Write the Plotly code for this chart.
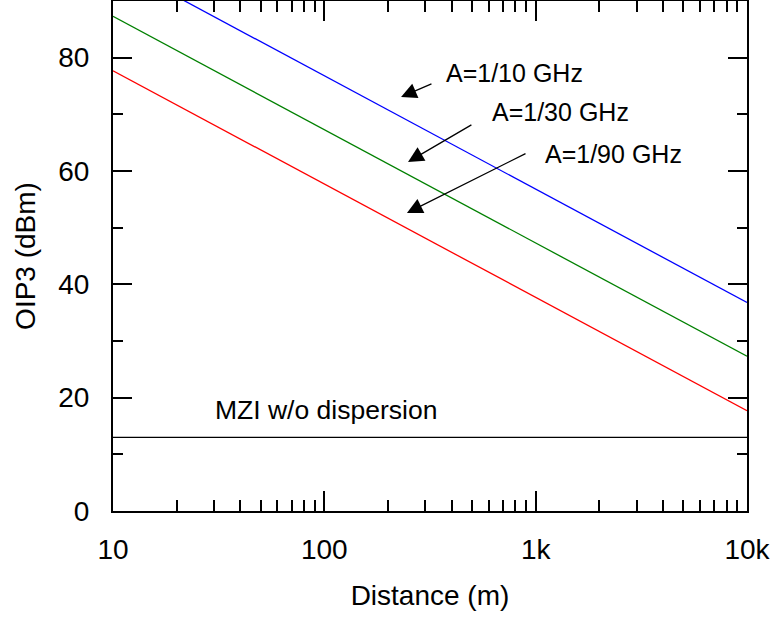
import plotly.graph_objects as go

distance = [10, 100, 1000, 10000]
oip3_a10 = [96.8, 76.8, 56.8, 36.8]
oip3_a30 = [87.3, 67.3, 47.3, 27.3]
oip3_a90 = [77.7, 57.7, 37.7, 17.7]
mzi = [13, 13, 13, 13]

x_tickvals = [10, 100, 1000, 10000]
x_ticktext = ["10", "100", "1k", "10k"]
y_tickvals = [0, 20, 40, 60, 80]

FONT = "Liberation Sans, Arial, sans-serif"

fig = go.Figure()
fig.add_trace(go.Scatter(x=distance, y=oip3_a10, mode="lines", line=dict(color="#0000ff", width=1.3)))
fig.add_trace(go.Scatter(x=distance, y=oip3_a30, mode="lines", line=dict(color="#008000", width=1.3)))
fig.add_trace(go.Scatter(x=distance, y=oip3_a90, mode="lines", line=dict(color="#ff0000", width=1.3)))
fig.add_trace(go.Scatter(x=distance, y=mzi, mode="lines", line=dict(color="#000000", width=1.3)))

axis_common = dict(
    showline=True, linecolor="black", linewidth=2, mirror="allticks",
    ticks="inside", tickcolor="black", tickwidth=2, showgrid=False, zeroline=False,
    tickfont=dict(family=FONT, size=28, color="black"),
    automargin=False,
)

fig.update_xaxes(
    type="log", range=[1, 4], tickvals=x_tickvals, ticktext=x_ticktext, ticklen=20,
    minor=dict(ticks="inside", ticklen=11, tickwidth=2, tickcolor="black", dtick="D1", showgrid=False),
    title=dict(text="Distance (m)", font=dict(family=FONT, size=28, color="black"), standoff=22),
    ticklabelstandoff=12,
    **axis_common,
)
fig.update_yaxes(
    range=[0, 90], tickvals=y_tickvals, ticklen=19,
    minor=dict(ticks="inside", ticklen=10, tickwidth=2, tickcolor="black", dtick=10, showgrid=False),
    title=dict(text="OIP3 (dBm)", font=dict(family=FONT, size=28, color="black"), standoff=14),
    ticklabelstandoff=16,
    **axis_common,
)

arrows = [
    (2.363, 73.05, 2.514, 75.5),
    (2.396, 61.6, 2.703, 68.3),
    (2.391, 52.6, 2.959, 63.2),
]
for hx, hy, tx, ty in arrows:
    fig.add_annotation(x=hx, y=hy, ax=tx, ay=ty, xref="x", yref="y", axref="x", ayref="y",
                       text="", showarrow=True, arrowhead=2, arrowsize=2.4, arrowwidth=1.3,
                       arrowcolor="black")

labels = [
    (2.566, 77.3, "A=1/10 GHz", 25),
    (2.784, 70.4, "A=1/30 GHz", 25),
    (3.035, 63.0, "A=1/90 GHz", 25),
    (1.473, 17.8, "MZI w/o dispersion", 26.5),
]
for lx, ly, t, fs in labels:
    fig.add_annotation(x=lx, y=ly, xref="x", yref="y", text=t, showarrow=False,
                       xanchor="left", yanchor="middle",
                       font=dict(family=FONT, size=fs, color="black"))

fig.update_layout(
    width=775, height=619, showlegend=False,
    plot_bgcolor="white", paper_bgcolor="white",
    margin=dict(l=113, r=28, t=1, b=108),
)

fig.write_html("out.html", config={"displayModeBar": False},
               post_script="document.body.style.margin='0';")
